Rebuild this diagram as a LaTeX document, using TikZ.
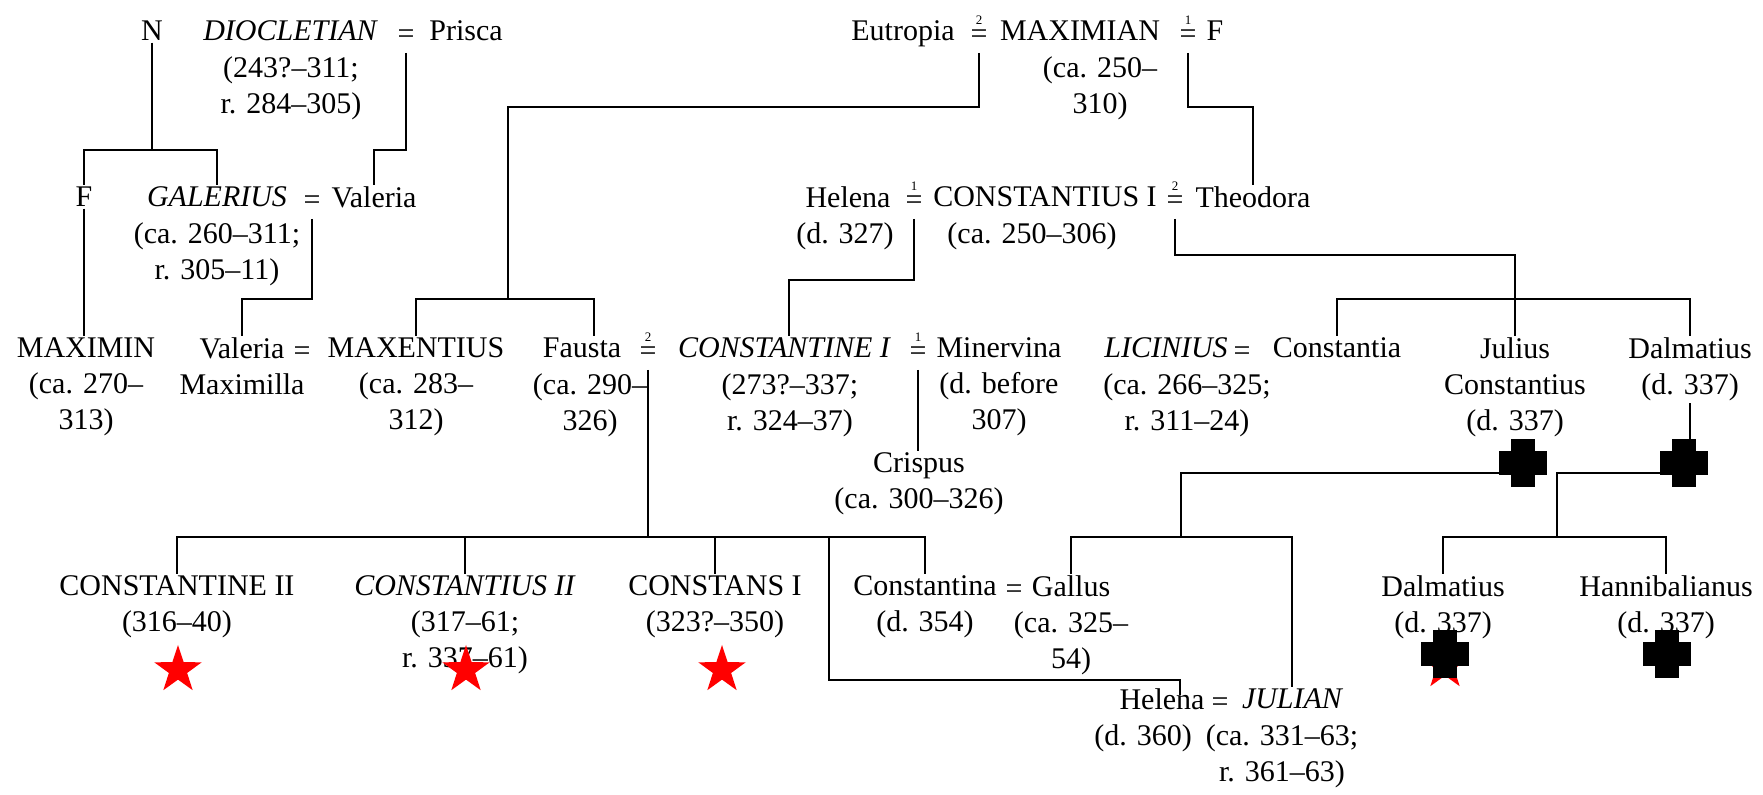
\documentclass[tikz,border=0pt]{standalone}
\usepackage{fontspec}
\setmainfont{Liberation Serif}
\usepackage{tikz}
\usetikzlibrary{shapes.geometric}
\newcommand{\treefont}{\fontsize{15pt}{18pt}\selectfont}
\newcommand{\wed}[1]{\shortstack{{\fontsize{6.5pt}{6.5pt}\selectfont #1}\\=}}
\tikzset{
    person/.style = {anchor=north, align=center, inner sep=0pt, outer ysep=1pt, font=\treefont},
    emperor/.style = {person, font=\treefont\itshape},
    marriage-sign/.style = {anchor=base, inner sep=0pt, outer ysep=4.5pt, font=\treefont},
    descent-line/.style = {line width=0.9pt},
    red-star/.style = {star, star points=5, star point ratio=2.6, fill=red, inner sep=0pt, minimum size=25pt},
}
\begin{document}
\begin{tikzpicture}[x=0.5pt, y=-0.5pt]
\useasboundingbox (0,0) rectangle (1763,795);

\node[person] (n) at (152,19) {N};
\node[emperor] (diocletian) at (290,19) {DIOCLETIAN};
\node[marriage-sign] (eqdp) at (406,44) {=};
\node[person] (prisca) at (466,19) {Prisca};
\node[person] (diocletian-d) at (291,55) {(243?--311;\\r. 284--305)};
\node[person] (eutropia) at (903,19) {Eutropia};
\node[marriage-sign] (eqem) at (979,44) {\wed{2}};
\node[person] (maximian) at (1080,19) {MAXIMIAN};
\node[marriage-sign] (eqmf) at (1188,44) {\wed{1}};
\node[person] (f2) at (1215,19) {F};
\node[person] (maximian-d) at (1100,55) {(ca. 250--\\310)};

\node[person] (f1) at (84,185) {F};
\node[emperor] (galerius) at (217,185) {GALERIUS};
\node[marriage-sign] (eqgv) at (312,210) {=};
\node[person] (valeria) at (374,185) {Valeria};
\node[person] (galerius-d) at (217,221) {(ca. 260--311;\\r. 305--11)};
\node[person] (helena) at (848,185) {Helena};
\node[marriage-sign] (eqhc) at (914,210) {\wed{1}};
\node[person] (constantius) at (1045,185) {CONSTANTIUS I};
\node[marriage-sign] (eqct) at (1175,210) {\wed{2}};
\node[person] (theodora) at (1253,185) {Theodora};
\node[person] (helena-d) at (845,221) {(d. 327)};
\node[person] (constantius-d) at (1032,221) {(ca. 250--306)};

\node[person] (maximin) at (86,336) {MAXIMIN\\(ca. 270--\\313)};
\node[person] (maximilla) at (242,336) {Valeria\\Maximilla};
\node[marriage-sign] (eqvm) at (302,361) {=};
\node[person] (maxentius) at (416,336) {MAXENTIUS\\(ca. 283--\\312)};
\node[person] (fausta) at (582,336) {Fausta};
\node[person] (fausta-d) at (590,372) {(ca. 290--\\326)};
\node[marriage-sign] (eqfc) at (648,361) {\wed{2}};
\node[emperor] (constantine) at (784,336) {CONSTANTINE I};
\node[person] (constantine-d) at (790,372) {(273?--337;\\r. 324--37)};
\node[marriage-sign] (eqcm) at (918,361) {\wed{1}};
\node[person] (minervina) at (999,336) {Minervina\\(d. before\\307)};
\node[emperor] (licinius) at (1166,336) {LICINIUS};
\node[person] (licinius-d) at (1187,372) {(ca. 266--325;\\r. 311--24)};
\node[marriage-sign] (eqlc) at (1242,361) {=};
\node[person] (constantia) at (1337,336) {Constantia};
\node[person] (julius) at (1515,336) {Julius\\Constantius\\(d. 337)};
\node[person] (dalmatius) at (1690,336) {Dalmatius\\(d. 337)};
\node[person] (crispus) at (919,451) {Crispus\\(ca. 300--326)};

\node[person] (constantineii) at (177,574) {CONSTANTINE II\\(316--40)};
\node[person] (constantiusii) at (465,574) {\textit{CONSTANTIUS II}\\(317--61;\\r. 337--61)};
\node[person] (constans) at (715,574) {CONSTANS I\\(323?--350)};
\node[person] (constantina) at (925,574) {Constantina\\(d. 354)};
\node[marriage-sign] (eqcg) at (1014,599) {=};
\node[person] (gallus) at (1071,574) {Gallus\\(ca. 325--\\54)};
\node[person] (dalmatius-ii) at (1443,574) {Dalmatius\\(d. 337)};
\node[person] (hannibalianus) at (1666,574) {Hannibalianus\\(d. 337)};

\node[person] (helena-j) at (1162,687) {Helena};
\node[person] (helena-j-d) at (1143,723) {(d. 360)};
\node[marriage-sign] (eqhj) at (1220,712) {=};
\node[emperor] (julian) at (1292,687) {JULIAN};
\node[person] (julian-d) at (1282,723) {(ca. 331--63;\\r. 361--63)};

\coordinate (mx-top) at (508,299);
\coordinate (hl-top) at (829,537);
\coordinate (jc-foot) at (1181,537);
\coordinate (dl-foot) at (1557,537);

\draw[descent-line] (n.south) -- (n.south |- 0,150);
\draw[descent-line] (f1.north) |- (galerius.north |- 0,150) -- (galerius.north);
\draw[descent-line] (eqdp.south) |- (valeria.north |- 0,150) -- (valeria.north);
\draw[descent-line] (eqgv.south) |- (maximilla.north |- 0,299) -- (maximilla.north);
\draw[descent-line] (f1.south) -- (f1.south |- maximin.north);
\draw[descent-line] (eqem.south) |- (mx-top |- 0,107) -- (mx-top);
\draw[descent-line] (maxentius.north) |- ([xshift=6pt]fausta.north |- 0,299) -- ([xshift=6pt]fausta.north);
\draw[descent-line] (eqmf.south) |- (theodora.north |- 0,107) -- (theodora.north);
\draw[descent-line] (eqhc.south) |- ([xshift=2.5pt]constantine.north |- 0,280) -- ([xshift=2.5pt]constantine.north);
\draw[descent-line] (eqct.south) |- (julius.north |- 0,255) -- (julius.north);
\draw[descent-line] (constantia.north) |- (dalmatius.north |- 0,299) -- (dalmatius.north);
\draw[descent-line] (eqcm.south) -- (eqcm.south |- crispus.north);
\draw[descent-line] (eqfc.south) -- (eqfc.south |- 0,537);
\draw[descent-line] (constantineii.north) |- (constantina.north |- 0,537) -- (constantina.north);
\draw[descent-line] (constantiusii.north) -- (constantiusii.north |- 0,537);
\draw[descent-line] (constans.north) -- (constans.north |- 0,537);
\draw[descent-line] (hl-top) |- ([xshift=9pt]helena-j.north |- 0,680) -- ([xshift=9pt,yshift=-4pt]helena-j.north);
\draw[descent-line] (julius.south) |- (jc-foot |- 0,473) -- (jc-foot);
\draw[descent-line] (gallus.north) |- (julian.north |- 0,537) -- (julian.north);
\draw[descent-line] (dalmatius.south) |- (dl-foot |- 0,473) -- (dl-foot);
\draw[descent-line] (dalmatius-ii.north) |- (hannibalianus.north |- 0,537) -- (hannibalianus.north);

\node[red-star] (star-a) at (178,670) {};
\node[red-star] (star-b) at (466,670) {};
\node[red-star] (star-c) at (722,670) {};
\node[red-star] (star-d) at (1445,666) {};

\foreach \cx/\cy in {1523/463, 1684/463, 1445/654, 1667/654} {
    \fill (\cx-24,\cy-12) rectangle (\cx+24,\cy+12);
    \fill (\cx-12,\cy-24) rectangle (\cx+12,\cy+24);
}
\end{tikzpicture}
\end{document}
